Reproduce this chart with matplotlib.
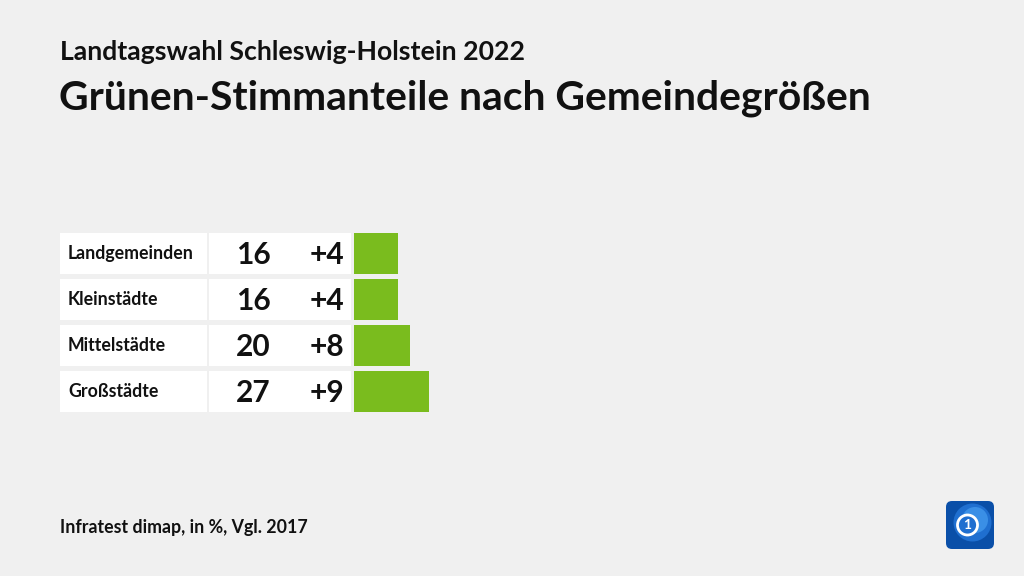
import matplotlib
matplotlib.use("Agg")
import matplotlib.pyplot as plt
from matplotlib.patches import Rectangle, FancyBboxPatch, Circle
import matplotlib.transforms as mtransforms

categories = ["Landgemeinden", "Kleinstädte", "Mittelstädte", "Großstädte"]
values = [16, 16, 20, 27]
changes = ["+4", "+4", "+8", "+9"]

W, H = 1024, 576
BG = "#f0f0f0"
GREEN = "#7abc1e"
FONT = ["Lato", "DejaVu Sans"]

fig = plt.figure(figsize=(W / 100, H / 100), dpi=100, facecolor=BG)

def fx(px):
    return px / W

def fy(py):
    return 1 - py / H

# Titles
fig.text(fx(60), fy(52), "Landtagswahl Schleswig-Holstein 2022", fontsize=19.2,
         fontweight="bold", family=FONT, va="center", ha="left", color="#111111")
fig.text(fx(59), fy(98), "Grünen-Stimmanteile nach Gemeindegrößen", fontsize=29.4,
         fontweight="bold", family=FONT, va="center", ha="left", color="#111111")
fig.text(fx(60), fy(527), "Infratest dimap, in %, Vgl. 2017", fontsize=12.8,
         fontweight="bold", family=FONT, va="center", ha="left", color="#111111")

# Bar axes
step = 46.0
top = 253.8 - step / 2
scale = 2.78  # px per percent
ax_w_px = 100 * scale
ax = fig.add_axes([fx(354), fy(top + 4 * step), ax_w_px / W, 4 * step / H])
ax.set_xlim(0, 100)
ax.set_ylim(3.5, -0.5)
ax.axis("off")
ypos = list(range(len(categories)))
bh = 41 / step
ax.barh(ypos, values, height=bh, color=GREEN, left=0)

tr = mtransforms.blended_transform_factory(fig.transFigure, ax.transData)
for i, (cat, v, ch) in enumerate(zip(categories, values, changes)):
    ax.add_patch(Rectangle((fx(60), i - bh / 2), fx(207) - fx(60), bh, transform=tr,
                           facecolor="white", edgecolor="none", clip_on=False))
    ax.add_patch(Rectangle((fx(209), i - bh / 2), fx(351) - fx(209), bh, transform=tr,
                           facecolor="white", edgecolor="none", clip_on=False))
    ax.text(fx(68), i, cat, transform=tr, fontsize=12.8, fontweight="bold", family=FONT,
            va="center", ha="left", color="#111111")
    ax.text(fx(253), i + 0.03, str(v), transform=tr, fontsize=21.5, fontweight="bold",
            family=FONT, va="center", ha="center", color="#111111")
    ax.text(fx(344), i + 0.03, ch, transform=tr, fontsize=21.5, fontweight="bold",
            family=FONT, va="center", ha="right", color="#111111")

# Logo
lax = fig.add_axes([fx(945), fy(550), 50 / W, 50 / H])
lax.set_xlim(0, 1)
lax.set_ylim(0, 1)
lax.axis("off")
lax.add_patch(FancyBboxPatch((0.02, 0.02), 0.96, 0.96, boxstyle="round,pad=0,rounding_size=0.12",
                             facecolor="#0a4fa8", edgecolor="none"))
lax.add_patch(Circle((0.55, 0.55), 0.38, facecolor="#1f6fd0", edgecolor="none"))
lax.add_patch(Circle((0.6, 0.6), 0.26, facecolor="#3a8fe6", edgecolor="none"))
lax.add_patch(Circle((0.45, 0.5), 0.2, facecolor="#1f6fd0", edgecolor="white", linewidth=2))
lax.text(0.45, 0.5, "1", color="white", fontsize=10, fontweight="bold", ha="center",
         va="center", family=FONT)

fig.savefig("out.png", dpi=100, facecolor=BG)
